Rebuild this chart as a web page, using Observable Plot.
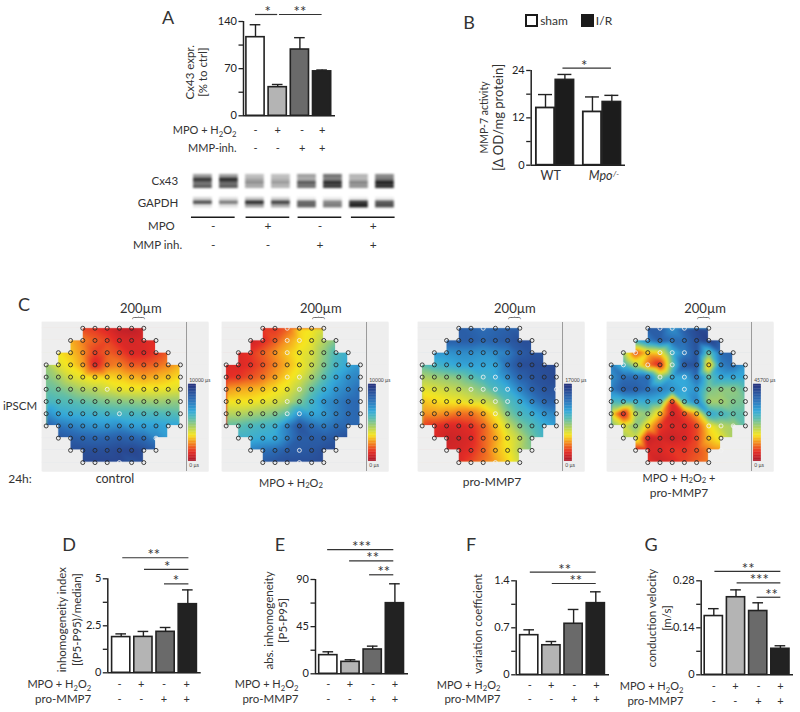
<!DOCTYPE html>
<html>
<head>
<meta charset="utf-8">
<script src="https://cdn.jsdelivr.net/npm/d3@7"></script>
<script src="https://cdn.jsdelivr.net/npm/@observablehq/plot@0.6"></script>
<style>
html,body{margin:0;padding:0;background:#fff;font-family:Lato,sans-serif;color:#333}
#fig{position:relative;width:800px;height:712px;overflow:hidden}
#fig>*{position:absolute}
#fig svg{overflow:visible}
.lab{white-space:pre;line-height:1;transform:translate(-50%,-50%)}
.lab sub{font-size:.7em;line-height:0;vertical-align:-0.25em}
.heat image{filter:blur(1.3px)}
.blot g[aria-label="rect"]{filter:blur(1.2px)}
.box{box-sizing:border-box;width:13px;height:13px;border:2px solid #1a1a1a}
</style>
</head>
<body>
<div id="fig"></div>
<script>
// ---------- Bar data ----------
const cx43Values=[116.7,42.5,98.4,66];
const cx43Errors=[18.5,4,17.6,2];
const mmp7Values=[14.5,21.6,13.5,16];
const mmp7Errors=[3.4,1.4,3.8,1.7];
const inhomIndexValues=[1.9,1.91,2.18,3.65];
const inhomIndexErrors=[0.17,0.29,0.23,0.76];
const absInhomValues=[17.8,11.4,23.2,67.4];
const absInhomErrors=[3.2,2,3.2,18.5];
const varCoefValues=[0.59,0.44,0.76,1.067];
const varCoefErrors=[0.08,0.056,0.213,0.169];
const velocityValues=[0.175,0.231,0.19,0.0775];
const velocityErrors=[0.022,0.022,0.0245,0.009];
const greys4=["#ffffff","#b4b4b4","#6a6a6a","#222222"];
const shamIR=["#ffffff","#1c1c1c","#ffffff","#1c1c1c"];
const signsOne=["-","+","-","+"];
const signsTwo=["-","-","+","+"];
const labelMPO="MPO + H₂O₂";
const labelProMMP="pro-MMP7";

// ---------- Western blot (darkness of each band slice per lane) ----------
const cx43Slices=[
 [.4,.4,.25,.25,.4,.6,.3,.5],
 [.85,.9,.35,.3,.35,.55,.3,.6],
 [.6,.65,.45,.4,.7,.9,.5,.95],
 [.7,.7,.35,.3,.6,.85,.45,.9]];
const gapdhSlices=[
 [.15,.1,.2,.15,.05,.05,.05,.05],
 [.75,.55,.9,.8,.65,.5,.85,.7],
 [.1,.1,.4,.35,.65,.55,.95,.75]];
const pairCenters=[0.4,2.5,4.5,6.55];

// ---------- Activation maps: values per electrode row, scale 0 (0 µs) – 10 (maximum) ----------
const rowStart=[3,2,1,0,0,0,0,0,0,1,2,3];
const colorStops=[0,1.2,2.4,3.4,4.5,5.6,6.5,8,10];
const colorRamp=["#a8182a","#e52d26","#f59020","#f6e61f","#a8cf6a","#55bbb4","#34a9da","#2b6cb5","#27327c"];
const heatControl=[
 [1.5,1.3,1.0,0.5,0.4,0.8],
 [2.8,2.2,1.8,1.5,1,0.9,1,1.2],
 [3.4,3.0,2.4,1.4,1.8,1.5,1,1,1.3,1.8],
 [4.6,3.7,3.3,2.6,0.9,2,2.2,1.7,1.7,1.9,2.3,2.8],
 [5,4.5,3.8,3.5,3.2,3.2,3.1,2.8,2.6,2.8,3,3.3],
 [5.4,5.2,4.8,4.4,4.2,3.9,3.6,3.5,3.5,3.5,3.6,3.7],
 [5.9,5.7,5.6,5.4,5.2,5.0,4.9,4.8,4.7,4.6,4.7,4.8],
 [7.2,6.5,6.3,6.2,6.1,6,5.9,5.9,5.8,5.8,5.7,5.6],
 [8.5,7.8,7.5,7.2,7.0,7.0,7.2,6.8,6.7,6.7,6.6,6.6],
 [8.8,8.5,8.3,8.2,8.3,8.5,8.3,8,7.4,6.8],
 [9,9,9,9,9.2,9.3,9,8.5],
 [9.2,9.3,9.3,9.3,8.8,9]];
const heatMPO=[
 [1.3,1.3,1.8,3.2,3.4,3.8],
 [0.7,1.1,1.7,2.5,3.2,3.6,4.3,5],
 [1,1.3,1.8,2.4,3,3.5,3.8,4.8,5.8,6.2],
 [1,1,1.2,1.6,2.2,2.8,3.4,4,5,6,6.5,7],
 [1.2,1.3,1.6,2,2.6,3.2,3.7,4.5,5.5,6.5,7.2,7.5],
 [2.5,2.7,2.8,3,3.3,3.6,4.3,5.3,6.2,7,7.5,8],
 [3.4,3.4,3.4,3.6,3.8,4.2,5,6,7,7.5,8,8.2],
 [4.3,4.3,4.5,4.7,5,5.5,7,6.5,6.8,7.5,8,8.2],
 [5.4,5.5,5.8,6,6.2,7.5,8.8,8,7.6,8,8.2,8.2],
 [6.2,6.2,6.4,6.5,7.5,8.5,8.5,8.5,8.7,9],
 [7.5,7.8,8,8.5,8.6,8.7,9,9.2],
 [8.5,8.8,9,9,9,9.2]];
const heatProMMP=[
 [8.5,8.3,8,8.2,8.4,8.5],
 [8.5,8.5,8.5,8.2,8.4,8.6,9,9],
 [7,7,7.2,7.2,7,7.2,7.5,8.5,8.8,8.8],
 [5.5,6,6.3,6.6,6.7,6.6,6.6,8,9,9.1,9.1,9.2],
 [4.4,4.6,4.8,5,5.5,6,6.4,7.3,8.3,8.8,9,9.2],
 [3.6,3.8,4,4.2,4.5,5,5.8,6.3,7.4,8.3,8.8,8.8],
 [3,3.2,3.4,3.5,3.8,3.9,4.4,5.6,6.3,7.4,8.2,8.4],
 [2.4,2.5,2.3,2,2,2.6,3.5,5,5.8,6.3,7,7.4],
 [1.5,1.2,1,1,1.2,1.8,2.9,4,5,5.6,6.3,6.8],
 [1,0.7,0.8,1,1.8,2.6,3.5,4.2,5.2,6.0],
 [0.8,0.9,1.2,1.8,2.8,3.4,4.3,5],
 [1,1.5,2,2.6,3.2,4]];
const heatCombo=[
 [8.5,8.5,7,8.5,9.2,9],
 [6.2,7.5,8.5,8,8,9,9.5,8.5],
 [4.5,1.5,3,3.2,6,7.5,8.8,5.2,8,8.3],
 [7.5,6,4.2,2,0.9,5.2,8.8,9,2.6,7.5,8,7],
 [7,8,8,8,4.8,6.5,6.5,8,5.4,6.5,6.5,6.5],
 [7.5,8.5,8.5,8,7.5,7,6.5,7,5,4.8,4.8,5.5],
 [5.8,6,6.2,6.4,6,1,6,7.5,4.5,4.5,5,5.2],
 [3.4,0.6,4.4,4.8,3,0.8,1.5,2.8,6.5,6,5.5,5.5],
 [5,3.8,5,3.2,1.4,1,1,1.5,3.3,4.2,4.5,5.5],
 [4.6,4,0.6,0.9,0.7,0.9,1.5,3,3.6,4.5],
 [0.9,1,1,1.3,1.3,1.6,2.2,2.5],
 [1.2,0.7,1,1.4,1.8,2.2]];
const whiteControl=["5,5","7,6","9,9","11,6"];
const whiteMPO=["0,5","1,5","1,6","2,5","4,5","4,6","5,6","6,5","7,5","7,6","10,6","11,6"];
const whiteProMMP=["0,5","4,5","4,6","5,4","5,5","5,6","5,7","5,11","6,6","6,7","7,6","11,6"];
const whiteCombo=["0,4","0,5","0,6","2,2","2,4","2,5","2,6","3,1","3,3","3,5","4,4","4,6","5,6","8,8","8,9","8,10","10,9"];

const fig=document.getElementById("fig");
const INK="#333";
const FONT="Lato, sans-serif";

// Real subscripts instead of the wide fallback glyphs
function subscripts(svg){
  svg.querySelectorAll("text").forEach(t=>{
    if(t.textContent.includes("₂")){
      const parts=t.textContent.split("₂");
      t.textContent="";
      const NS="http://www.w3.org/2000/svg";
      parts.forEach((p,i)=>{
        const a=document.createElementNS(NS,"tspan");a.textContent=p;
        if(i>0&&p)a.setAttribute("dy","-2.5");
        t.appendChild(a);
        if(i<parts.length-1){
          const s=document.createElementNS(NS,"tspan");s.textContent="2";
          s.setAttribute("font-size","0.7em");s.setAttribute("dy","2.5");
          t.appendChild(s);
        }
      });
    }
  });
}
function place(node,left,top,cls){
  const d=document.createElement("div");
  d.style.left=left+"px";d.style.top=top+"px";
  if(cls)d.className=cls;
  subscripts(node);
  d.appendChild(node);fig.appendChild(d);
}
function label(text,x,y,size=12.5,extra={}){
  const d=document.createElement("div");
  d.className="lab";
  text.split("₂").forEach((p,i,a)=>{
    d.appendChild(document.createTextNode(p));
    if(i<a.length-1){const s=document.createElement("sub");s.textContent="2";d.appendChild(s);}
  });
  d.style.left=x+"px";d.style.top=y+"px";d.style.fontSize=size+"px";
  Object.assign(d.style,extra);
  fig.appendChild(d);
}

function barPanel(o){
  const n=o.values.length, pos=o.positions||d3.range(n), hw=o.halfWidth||0.41;
  const xmin=(o.axisX-o.c0)/o.s, xmax=(o.xEnd-o.c0)/o.s;
  const idx=d3.range(n);
  const capW=o.capW||0.24;
  const marks=[
    Plot.ruleX(idx,{x:i=>pos[i],y1:i=>o.values[i],y2:i=>o.values[i]+o.errors[i],stroke:"#222",strokeWidth:1.4}),
    Plot.ruleY(idx,{y:i=>o.values[i]+o.errors[i],x1:i=>pos[i]-capW,x2:i=>pos[i]+capW,stroke:"#222",strokeWidth:1.4}),
    Plot.rect(idx,{x1:i=>pos[i]-hw,x2:i=>pos[i]+hw,y1:()=>0,y2:i=>o.values[i],fill:i=>o.fills[i],stroke:"#222",strokeWidth:o.barStroke||1.6}),
    Plot.axisY({anchor:"left",ticks:o.ticks,tickFormat:d=>o.tickLabels.includes(d)?String(d):"",tickSize:4.5,tickPadding:2,fontSize:o.tickFont||11,color:"#222",strokeWidth:1.3,label:null}),
    Plot.ruleX([xmin],{y1:0,y2:o.ticks[o.ticks.length-1],stroke:"#222",strokeWidth:1.5}),
    Plot.ruleY([0],{x1:xmin,x2:xmax,stroke:"#222",strokeWidth:1.6})
  ];
  for(const yl of o.yLabels){
    marks.push(Plot.text([yl.text],{x:()=>xmin,y:()=>o.yLabelAt,rotate:-90,dx:yl.dx,fontSize:yl.size||11.5,fill:INK,text:d=>d}));
  }
  for(const r of (o.rows||[])){
    marks.push(Plot.text([r.label],{x:()=>xmin,y:()=>0,dx:r.labelDx,dy:r.dy,textAnchor:"end",fontSize:r.label===labelProMMP?11.5:11,fill:INK,text:d=>d}));
    marks.push(Plot.text(r.signs,{x:(d,i)=>r.at[i],y:()=>0,dy:r.dy,fontSize:11,fill:INK,text:d=>d}));
  }
  for(const t of (o.xText||[])){
    marks.push(Plot.text([t.text],{x:()=>t.at,y:()=>0,dy:t.dy,fontSize:t.size||12.5,fontStyle:t.italic?"italic":"normal",fill:INK,text:d=>d}));
  }
  for(const g of (o.sig||[])){
    marks.push(Plot.ruleY([g.y],{x1:g.from,x2:g.to,stroke:"#333",strokeWidth:1.2}));
    marks.push(Plot.text([g.stars],{x:()=>g.at,y:()=>g.y,dy:o.starDy??2.5,lineAnchor:"bottom",fontSize:15,fill:INK,text:d=>d}));
  }
  const plot=Plot.plot({
    width:o.right-o.left,height:o.bottom-o.top,
    marginLeft:o.axisX-o.left,marginRight:o.right-o.xEnd,marginTop:o.yTop-o.top,marginBottom:o.bottom-o.yBase,
    x:{type:"linear",domain:[xmin,xmax],axis:null},
    y:{domain:[0,o.ticks[o.ticks.length-1]],axis:null},
    style:{fontFamily:FONT,background:"transparent",overflow:"visible"},
    marks
  });
  place(plot,o.left,o.top);
}

function heatPanel(o){
  const pts=[];
  o.values.forEach((row,r)=>row.forEach((v,i)=>pts.push({r,c:rowStart[r]+i,v})));
  const rowEnd=rowStart.map(s=>11-s);
  const masks=[];
  const xa=-0.3,xb=13.3,ya=-0.47,yb=11.73;
  masks.push({x1:xa,x2:xb,y1:ya,y2:0},{x1:xa,x2:xb,y1:11,y2:yb});
  d3.range(11).forEach(b=>{
    const l=Math.max(rowStart[b],rowStart[b+1]), e=Math.min(rowEnd[b],rowEnd[b+1]);
    masks.push({x1:xa,x2:l,y1:b,y2:b+1},{x1:e,x2:xb,y1:b,y2:b+1});
  });
  const dots=pts.filter(d=>!(d.r===9&&d.c===10));
  const white=new Set(o.white);
  const barCells=d3.range(0,10,0.2);
  const plot=Plot.plot({
    width:166,height:173,marginLeft:0,marginRight:0,marginTop:24,marginBottom:0,
    x:{type:"linear",domain:[-0.3,13.3],axis:null},
    y:{type:"linear",domain:[-0.47,11.73],reverse:true,axis:null},
    color:{type:"linear",domain:colorStops,range:colorRamp,clamp:true,legend:false},
    style:{fontFamily:FONT,background:"transparent",overflow:"visible"},
    marks:[
      Plot.frame({fill:"#eeeeee",stroke:"none"}),
      Plot.raster(pts,{x:"c",y:"r",fill:"v",interpolate:"barycentric",x1:-0.3,x2:11.5,y1:-0.47,y2:11.73,pixelSize:1,clip:"frame"}),
      Plot.rect(masks,{x1:"x1",x2:"x2",y1:"y1",y2:"y2",fill:"#eeeeee",stroke:"#eeeeee",strokeWidth:0.8}),
      Plot.ruleX([11.5],{stroke:"#9a9a9a",strokeWidth:1}),
      Plot.rect(barCells,{x1:()=>11.67,x2:()=>12.3,y1:d=>10.9-(d/10)*6.3,y2:d=>10.9-((d+0.2)/10)*6.3,fill:d=>d+0.1,stroke:d=>d+0.1,strokeWidth:0.3}),
      Plot.text([o.maxLabel,"0 µs"],{x:()=>11.72,y:(d,i)=>i?11.23:4.28,text:d=>d,textAnchor:"start",fontSize:5,fill:"#444"}),
      Plot.dot(dots,{x:"c",y:"r",r:2,strokeWidth:1,fill:"none",strokeOpacity:0.85,stroke:d=>white.has(d.r+","+d.c)?"#f2f2f2":"#262626"}),
      Plot.text(["{"],{x:()=>7.5,y:()=>-0.85,rotate:90,fontSize:13,fontWeight:300,fill:"#222",text:d=>d}),
      Plot.text(["200µm"],{x:()=>o.scaleAt,y:()=>-1.6,fontSize:13,fill:INK,text:d=>d})
    ]
  });
  place(plot,o.left,298,"heat");
}

// ---------- Panel A ----------
barPanel({values:cx43Values,errors:cx43Errors,fills:greys4,
  left:150,right:345,top:0,bottom:160,axisX:243,xEnd:335,yTop:21,yBase:115.3,c0:255,s:22.2,
  ticks:[0,35,70,105,140],tickLabels:[0,70,140],
  yLabelAt:64.7,yLabels:[{text:"Cx43 expr.",dx:-53},{text:"[% to ctrl]",dx:-40}],
  rows:[{label:labelMPO,labelDx:-7,dy:15,signs:signsOne,at:[0,1,2.1,3]},
        {label:"MMP-inh.",labelDx:-7,dy:33,signs:signsTwo,at:[0,1,2.1,3]}],
  sig:[{y:150.4,from:0,to:1,stars:"*",at:0.55},{y:150.4,from:1.08,to:3,stars:"**",at:2}]
});

// ---------- Blot ----------
{
  const cells=[];
  cx43Slices.forEach((row,r)=>row.forEach((v,l)=>cells.push({l,r,v})));
  gapdhSlices.forEach((row,r)=>row.forEach((v,l)=>cells.push({l,r:r+6.55,v})));
  const blot=Plot.plot({
    width:270,height:76,marginLeft:70,marginRight:0,marginTop:4,marginBottom:0,
    x:{type:"linear",domain:[-0.4,7.29],axis:null},
    y:{type:"linear",domain:[0,20.57],reverse:true,axis:null},
    color:{type:"linear",domain:[0,1],range:["#f6f6f6","#141414"]},
    style:{fontFamily:FONT,background:"transparent",overflow:"visible"},
    marks:[
      Plot.rect(cells,{x1:d=>d.l-0.36,x2:d=>d.l+0.36,y1:"r",y2:d=>d.r+1,fill:"v"}),
      Plot.ruleY(pairCenters,{y:()=>12.2,x1:d=>d-0.84,x2:d=>d+0.84,stroke:"#1a1a1a",strokeWidth:1.5}),
      Plot.text(signsOne,{x:(d,i)=>pairCenters[i],y:()=>14.9,fontSize:12,fill:INK,text:d=>d}),
      Plot.text(signsTwo,{x:(d,i)=>pairCenters[i],y:()=>20.1,fontSize:12,fill:INK,text:d=>d}),
      Plot.text(["Cx43","GAPDH"],{x:()=>-0.95,y:(d,i)=>i?8.2:2,textAnchor:"end",fontSize:11.5,fill:INK,text:d=>d}),
      Plot.text(["MPO"],{x:()=>-1.08,y:()=>14.9,textAnchor:"end",fontSize:11.5,fill:INK,text:d=>d}),
      Plot.text(["MMP inh."],{x:()=>-0.8,y:()=>20.1,textAnchor:"end",fontSize:11.5,fill:INK,text:d=>d})
    ]
  });
  place(blot,122,170,"blot");
}

// ---------- Panel B ----------
barPanel({values:mmp7Values,errors:mmp7Errors,fills:shamIR,positions:[0,1,2.42,3.42],halfWidth:0.47,capW:0.36,barStroke:1.8,
  left:430,right:640,top:40,bottom:190,axisX:530.7,xEnd:625,yTop:70,yBase:164.7,c0:545,s:19.4,
  ticks:[0,6,12,18,24],tickLabels:[0,12,24],
  yLabelAt:12.1,yLabels:[{text:"MMP-7 activity",dx:-46.7,size:10.5},{text:"[Δ OD/mg protein]",dx:-32.7,size:13}],
  xText:[{text:"WT",at:0.27,dy:11,size:12.5},{text:"Mpo",at:2.84,dy:11,size:12.5,italic:true},{text:"-/-",at:3.56,dy:9,size:8,italic:true}],
  sig:[{y:24.6,from:0.9,to:3.4,stars:"*",at:2}]
});

// ---------- Panels C ----------
heatPanel({values:heatControl,white:whiteControl,left:42,maxLabel:"10000 µs",scaleAt:7.75});
heatPanel({values:heatMPO,white:whiteMPO,left:221.6,maxLabel:"10000 µs",scaleAt:7.75});
heatPanel({values:heatProMMP,white:whiteProMMP,left:418,maxLabel:"17000 µs",scaleAt:7.6});
heatPanel({values:heatCombo,white:whiteCombo,left:606.7,maxLabel:"45700 µs",scaleAt:7.7});

// ---------- Panels D–G ----------
barPanel({values:inhomIndexValues,errors:inhomIndexErrors,fills:greys4,
  left:0,right:205,top:540,bottom:712,axisX:107.3,xEnd:200.7,yTop:578.3,yBase:672.3,c0:120.7,s:22.2,
  ticks:[0,1.25,2.5,3.75,5],tickLabels:[0,2.5,5],
  yLabelAt:2.83,yLabels:[{text:"inhomogeneity index",dx:-45.6},{text:"[(P5-P95)/median]",dx:-30.6}],
  rows:[{label:labelMPO,labelDx:-16.6,dy:12,signs:signsOne,at:[-.08,.9,1.93,2.95]},
        {label:labelProMMP,labelDx:-16.6,dy:26.5,signs:signsTwo,at:[-.08,.9,1.93,2.95]}],
  sig:[{y:6.12,from:0.07,to:3.05,stars:"**",at:1.47},{y:5.5,from:1.05,to:3.05,stars:"*",at:2.07},{y:4.73,from:1.95,to:3.05,stars:"*",at:2.47}]
});
barPanel({values:absInhomValues,errors:absInhomErrors,fills:greys4,
  left:205,right:415,top:530,bottom:712,axisX:315,xEnd:408,yTop:579,yBase:673.3,c0:327.8,s:22.2,
  ticks:[0,22.5,45,67.5,90],tickLabels:[0,45,90],
  yLabelAt:50.9,yLabels:[{text:"abs. inhomogeneity",dx:-46},{text:"[P5-P95]",dx:-32}],
  rows:[{label:labelMPO,labelDx:-17,dy:11,signs:signsOne,at:[0,.97,2.01,3]},
        {label:labelProMMP,labelDx:-17,dy:25.5,signs:signsTwo,at:[0,.97,2.01,3]}],
  sig:[{y:118.6,from:-0.03,to:2.95,stars:"***",at:1.5},{y:107.8,from:0.96,to:2.95,stars:"**",at:2},{y:94.5,from:1.86,to:2.95,stars:"**",at:2.5}]
});
barPanel({values:varCoefValues,errors:varCoefErrors,fills:greys4,
  left:415,right:615,top:540,bottom:712,axisX:515.7,xEnd:609,yTop:580.3,yBase:674.3,c0:528.7,s:22.2,
  ticks:[0,0.35,0.7,1.05,1.4],tickLabels:[0,0.7,1.4],
  yLabelAt:0.76,yLabels:[{text:"variation coefficient",dx:-37.7}],
  rows:[{label:labelMPO,labelDx:-15.7,dy:10.5,signs:signsOne,at:[.03,.99,2.03,3.03]},
        {label:labelProMMP,labelDx:-15.7,dy:25,signs:signsTwo,at:[.03,.99,2.03,3.03]}],
  sig:[{y:1.53,from:0.05,to:3.02,stars:"**",at:1.6},{y:1.36,from:1.04,to:3.02,stars:"**",at:2.1}]
});
barPanel({values:velocityValues,errors:velocityErrors,fills:greys4,
  left:615,right:800,top:540,bottom:712,axisX:700.7,xEnd:793,yTop:580.3,yBase:674.3,c0:713.3,s:22.2,
  ticks:[0,0.07,0.14,0.21,0.28],tickLabels:[0,0.14,0.28],
  yLabelAt:0.169,yLabels:[{text:"conduction velocity",dx:-49},{text:"[m/s]",dx:-34}],
  rows:[{label:labelMPO,labelDx:-17.7,dy:12,signs:signsOne,at:[0,.97,2.01,3]},
        {label:labelProMMP,labelDx:-17.7,dy:26.5,signs:signsTwo,at:[0,.97,2.01,3]}],
  sig:[{y:0.308,from:0.05,to:3.02,stars:"**",at:1.55},{y:0.274,from:1.05,to:3.02,stars:"***",at:2.05},{y:0.231,from:1.95,to:3.02,stars:"**",at:2.6}]
});

// ---------- Letters, captions, legend ----------
label("A",168,17,18);label("B",469,22,18);label("C",24,304,18);
label("D",69,544,18);label("E",280,544,18);label("F",471,544,18);label("G",651,544,18);
label("iPSCM",20,406,11.5);label("24h:",20,479,12);
label("control",115,479,12.5);label(labelMPO,291,482,11);label(labelProMMP,492,482,12);
label(labelMPO+" +",679,477,11);label(labelProMMP,679,493,12);
for(const [x,bg] of [[525,"#fff"],[581,"#1a1a1a"]]){
  const b=document.createElement("div");b.className="box";b.style.left=x+"px";b.style.top="14px";b.style.background=bg;fig.appendChild(b);
}
label("sham",554,21,12);label("I/R",604,21,12);
</script>
</body>
</html>
